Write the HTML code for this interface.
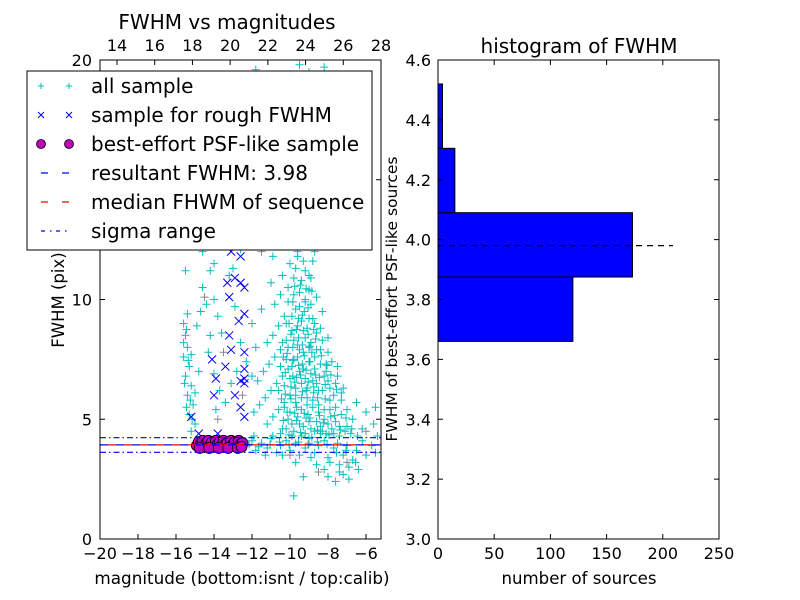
<!DOCTYPE html>
<html><head><meta charset="utf-8"><style>
body{margin:0;background:#fff}
svg{display:block;font-family:"DejaVu Sans","Liberation Sans",sans-serif}
</style></head><body>
<svg id="c" width="800" height="600" viewBox="0 0 800 600">
<rect width="800" height="600" fill="#fff"/>
<g id="left"></g>
<g id="right"></g>
</svg>
<script>
const allSample=[[-9.5,19.8],[-9.0,19.5],[-8.2,19.7],[-10.2,19.3],[-11.8,19.6],[-9.7,18.9],[-8.9,18.2],[-10.5,17.6],[-9.2,17.1],[-8.5,16.8],[-11.2,16.5],[-9.8,16.0],[-10.0,15.4],[-8.7,15.1],[-9.4,14.7],[-10.8,14.2],[-12.0,13.8],[-9.1,13.5],[-8.4,13.2],[-10.3,12.9],[-11.5,12.6],[-13.3,12.3],[-12.6,12.1],[-9.6,12.0],[-10.9,11.8],[-8.8,11.6],[-14.0,11.5],[-13.0,11.3],[-15.5,11.2],
[-10.8,9.8],[-10.5,10.2],[-10.1,10.5],[-9.8,10.9],[-9.5,10.3],[-9.2,9.9],[-9.0,10.4],[-9.7,9.6],[-10.3,9.3],[-10.6,8.9],[-10.9,8.5],[-11.2,8.2],[-9.4,9.1],[-9.1,8.8],[-8.8,9.2],[-8.6,8.6],[-9.9,8.7],[-10.2,8.3],[-10.5,7.9],[-10.8,7.6],[-11.1,7.3],[-11.4,7.0],[-11.7,6.6],[-9.6,8.1],[-9.3,7.8],[-9.0,8.0],[-8.7,7.6],[-8.4,7.9],[-8.1,7.3],[-9.8,7.5],[-10.1,7.1],[-10.4,6.8],[-10.7,6.5],[-11.0,6.2],[-11.3,5.9],[-11.6,5.6],[-11.9,5.3],[-9.5,7.0],[-9.2,6.7],[-8.9,6.9],[-8.6,6.5],[-8.3,6.2],[-8.0,6.6],[-7.7,6.0],[-9.7,6.3],[-10.0,6.0],[-10.3,5.7],[-10.6,5.4],[-10.9,5.1],[-11.2,4.8],[-9.4,5.9],[-9.1,5.6],[-8.8,5.8],[-8.5,5.3],[-8.2,5.0],[-7.9,5.4],[-7.6,4.9],[-7.3,5.2],[-7.0,4.7],[-6.7,5.0],[-9.6,5.1],[-9.9,4.8],[-10.2,4.6],[-10.5,4.4],[-9.3,4.7],[-9.0,4.9],[-8.7,4.5],[-8.4,4.7],[-8.1,4.4],[-7.8,4.6],[-10.0,11.5],[-9.6,11.8],[-9.2,11.2],[-8.9,10.9],[-10.4,11.0],[-11.0,10.7],[-11.5,9.6],[-12.0,9.0],[-11.8,8.0],[-12.3,7.4],[-12.0,6.8],[-8.3,9.5],[-8.0,8.4],[-7.5,7.2],[-7.2,6.3],[-6.5,5.7],[-6.0,5.3],[-5.5,5.5],[-5.6,4.8],[-6.2,4.6],[-6.8,4.4],[-7.4,4.3],
[-9.55,8.4],[-9.35,7.3],[-9.15,6.2],[-9.85,6.8],[-9.65,5.5],[-10.05,9.0],[-9.25,9.5],[-8.95,7.4],[-10.35,7.6],[-8.75,6.1],[-9.45,10.6],[-9.85,9.9],[-10.15,5.3],[-8.55,5.9],[-9.05,5.2],
[-10.4,4.6],[-10.1,5.0],[-9.8,4.5],[-9.5,4.8],[-9.2,4.4],[-8.9,4.6],[-8.6,4.9],[-8.3,4.5],[-8.0,4.8],[-7.7,4.4],[-7.4,4.7],[-7.1,4.5],
[-10.3,5.5],[-10.0,5.3],[-9.7,5.7],[-9.4,5.4],[-9.1,5.9],[-8.8,5.5],[-8.5,5.6],[-8.2,5.4],[-7.9,5.8],[-7.6,5.5],[-7.3,5.8],[-7.0,5.4],
[-10.6,6.2],[-10.3,6.4],[-10.0,6.7],[-9.7,6.0],[-9.4,6.5],[-9.1,6.3],[-8.8,6.6],[-8.5,6.2],[-8.2,6.8],[-7.9,6.3],[-7.6,6.5],[-7.3,6.1],
[-10.5,7.2],[-10.2,7.5],[-9.9,7.2],[-9.6,7.6],[-9.3,7.1],[-9.0,7.4],[-8.7,7.1],[-8.4,7.3],[-8.1,7.0],[-7.8,7.4],[-7.5,6.8],
[-10.4,8.2],[-10.1,8.0],[-9.8,8.3],[-9.5,7.9],[-9.2,8.4],[-8.9,8.2],[-8.6,7.9],[-8.3,8.3],[-8.0,7.8],
[-10.2,9.0],[-9.9,9.3],[-9.6,8.9],[-9.3,8.7],[-9.0,9.2],[-8.7,9.0],[-8.4,8.8],
[-10.1,9.9],[-9.8,10.2],[-9.5,9.7],[-9.2,10.0],[-8.9,9.8],[-8.6,10.1],[-9.4,10.8],[-9.7,11.3],[-9.0,11.0],[-9.3,11.6],[-8.7,12.0],[-9.9,12.4],[-9.0,12.8],[-10.6,13.5],[-9.6,13.9],[-8.6,14.2],
[-9.75,6.55],[-9.45,6.85],[-9.15,7.05],[-8.85,7.8],[-9.35,8.1],[-9.85,8.0],[-9.55,9.2],[-9.05,8.55],[-10.25,6.95],[-8.65,6.85],[-9.95,5.85],[-9.25,5.25],[-8.95,5.05],[-9.65,4.95],[-10.45,5.85],[-8.45,5.15],[-8.15,5.85],[-7.85,5.1],
[-10.35,4.95],[-10.05,4.35],[-9.75,5.25],[-9.45,4.45],[-9.15,5.05],[-8.85,4.25],[-8.55,4.55],[-8.25,4.85],[-7.95,4.35],[-7.65,5.15],[-7.35,4.55],[-7.05,5.05],[-6.75,4.6],[-6.45,4.3],
[-10.25,6.05],[-9.95,6.35],[-9.65,6.75],[-9.35,6.15],[-9.05,6.55],[-8.75,6.35],[-8.45,6.75],[-8.15,6.45],[-7.85,6.85],[-7.55,6.25],
[-10.15,7.75],[-9.85,7.45],[-9.55,7.25],[-9.25,7.65],[-8.95,8.05],[-8.65,8.35],[-8.35,7.65],[-8.05,7.25],
[-9.95,8.55],[-9.65,8.75],[-9.35,9.35],[-9.05,9.65],[-8.75,8.75],[-9.75,10.55],[-9.15,10.45],[-8.85,10.35],
[-12.3,3.9],[-12.0,4.1],[-11.8,3.7],[-11.5,4.0],[-11.2,3.8],[-11.0,4.2],[-10.7,3.6],[-10.5,3.9],[-10.2,4.1],[-10.0,3.7],[-9.7,4.0],[-9.5,3.5],[-9.2,3.8],[-9.0,4.2],[-8.7,3.6],[-8.5,3.9],[-8.2,4.1],[-8.0,3.4],[-7.7,3.8],[-7.5,4.0],[-7.2,3.5],[-7.0,3.9],[-6.7,3.3],[-6.5,3.7],[-6.2,4.1],[-6.0,3.5],[-5.7,3.9],[-5.4,4.3],[-5.5,3.6],[-11.9,4.3],[-11.3,3.5],[-10.9,4.3],[-10.4,3.5],[-9.9,4.3],[-9.4,4.3],[-8.9,3.4],[-8.4,4.4],[-7.9,3.2],[-7.4,3.1],[-6.9,3.0],[-6.4,2.9],[-7.2,2.7],[-8.2,2.9],[-8.6,3.1],[-9.7,3.2],[-9.3,2.6],[-9.8,1.8],[-8.0,2.6],[-6.9,2.5],[-7.6,2.4],[-7.4,2.8],
[-12.15,3.95],[-11.65,3.85],[-11.05,3.95],[-10.55,4.05],[-10.05,3.95],[-9.55,4.05],[-9.05,3.95],[-8.55,4.05],[-8.05,3.95],[-7.55,3.6],[-7.05,3.7],[-6.55,3.2],
[-15.6,9.0],[-15.5,8.5],[-15.4,8.0],[-15.6,7.6],[-15.3,7.2],[-15.5,6.8],[-15.2,6.4],[-15.4,6.0],[-15.1,5.6],[-15.3,5.2],[-15.0,4.8],[-15.2,4.5],[-15.4,9.4],[-15.6,8.2],[-15.2,7.7],[-14.9,8.9],[-14.8,7.0],[-15.0,6.1],[-14.6,10.5],[-14.4,9.8],[-14.2,11.2],[-14.0,10.0],[-13.8,9.3],[-13.6,8.6],[-14.3,7.8],[-14.0,6.9],[-13.7,6.2],[-13.4,5.7],[-13.1,6.5],[-12.8,7.0],[-12.6,8.2],[-12.9,9.7],[-13.2,11.0],[-13.5,12.5],[-13.9,13.0],[-14.6,12.0],[-14.8,13.5],[-15.2,12.8],[-14.5,14.5],[-13.0,14.0],[-12.4,13.5],[-11.7,14.8],[-12.2,15.5],[-11.0,15.8],[-12.7,17.0],[-11.4,17.5],[-13.3,16.0],
[-15.45,8.75],[-15.35,7.45],[-15.55,6.5],[-15.25,5.8],[-15.45,5.5],[-15.15,5.0],[-14.7,9.5],[-14.2,8.5],[-13.9,5.4]];
const greySample=[[-14.5,10.1],[-13.5,7.8],[-12.5,6.0],[-10.0,3.5],[-8.5,2.8],[-7.0,3.2],[-11.5,12.0],[-9.0,4.0],[-6.0,4.5],[-13.8,5.0]];
const roughSample=[[-13.3,10.7],[-12.9,10.9],[-12.6,10.7],[-12.4,10.5],[-13.2,10.1],[-12.4,9.4],[-12.7,9.1],[-13.2,8.5],[-13.1,7.9],[-12.4,7.8],[-14.1,7.5],[-13.4,7.2],[-12.4,7.1],[-12.4,6.7],[-12.6,6.6],[-12.4,6.5],[-13.9,6.7],[-14.0,6.0],[-12.9,6.0],[-12.6,5.5],[-12.4,5.1],[-15.2,5.1],[-13.8,4.4],[-14.8,4.4],[-13.1,12.0],[-12.6,11.8]];
const bestSample=[[-14.9,3.9],[-14.8,4.05],[-14.7,3.95],[-14.6,4.1],[-14.5,3.85],[-14.4,4.0],[-14.3,4.1],[-14.2,3.9],[-14.1,4.05],[-14.0,3.85],[-13.9,4.1],[-13.8,3.95],[-13.7,4.05],[-13.6,3.85],[-13.5,4.1],[-13.4,3.95],[-13.3,4.0],[-13.2,3.85],[-13.1,4.1],[-13.0,3.95],[-12.9,4.05],[-12.8,3.85],[-12.7,4.1],[-12.6,3.95],[-12.5,4.0],[-14.75,3.8],[-14.25,3.8],[-13.75,3.8],[-13.25,3.8],[-12.75,3.8],[-12.55,3.85]];
const resultantFwhm=3.93, medianFwhm=3.93, sigmaHigh=4.23, sigmaLow=3.62;
const binEdges=[3.66,3.875,4.09,4.305,4.52];
const binCounts=[120,173,15,4];
const histLine=3.98, histLineLen=209;
const xTicks=[-20,-18,-16,-14,-12,-10,-8,-6];
const xTopTicks=[14,16,18,20,22,24,26,28];
const yTicks=[0,5,10,15,20];
const hxTicks=[0,50,100,150,200,250];
const hyTicks=[3.0,3.2,3.4,3.6,3.8,4.0,4.2,4.4,4.6];

const NS='http://www.w3.org/2000/svg';
function mk(p,t,a,txt){const e=document.createElementNS(NS,t);for(const k in a)e.setAttribute(k,a[k]);if(txt!==undefined)e.textContent=txt;p.appendChild(e);return e;}
const L=document.getElementById('left'),R=document.getElementById('right');
const X=m=>100+(m+20)*19, Y=f=>539-f*23.95;
const TX=m=>117+(m-14)*18.857;
const HX=n=>438+n*281/250, HY=v=>539-(v-3)*299.375;

allSample.forEach(p=>{const x=X(p[0]),y=Y(p[1]);
 const e=mk(L,'path',{d:`M${x-4},${y}h8M${x},${y-4}v8`,stroke:'#00bfbf','stroke-width':1});
 
 });
greySample.forEach(p=>{const x=X(p[0]),y=Y(p[1]);
 const e=mk(L,'path',{d:`M${x-4},${y}h8M${x},${y-4}v8`,stroke:'#888','stroke-width':1});
 
 });
roughSample.forEach(p=>{const x=X(p[0]),y=Y(p[1]);
 const e=mk(L,'path',{d:`M${x-4},${y-4}l8,8M${x-4},${y+4}l8,-8`,stroke:'#0000ff','stroke-width':1});
 
 });
bestSample.forEach(p=>{
 const e=mk(L,'circle',{cx:X(p[0]),cy:Y(p[1]),r:5.5,fill:'#bf00bf',stroke:'#000','stroke-width':0.8});
 
 });
[[sigmaHigh,'#0000ff','6,3,1.5,3','sigma-high-line'],[sigmaLow,'#0000ff','6,3,1.5,3','sigma-low-line'],[resultantFwhm,'#0000ff','8,8','resultant-fwhm-line']].forEach(l=>{
 const e=mk(L,'line',{x1:100,x2:381,y1:Y(l[0]),y2:Y(l[0]),stroke:l[1],'stroke-width':1.2,'stroke-dasharray':l[2]});
 
 });
{const e=mk(L,'line',{x1:100,x2:381,y1:Y(medianFwhm),y2:Y(medianFwhm),stroke:'#ff0000','stroke-width':1.2,'stroke-dasharray':'8,8','stroke-dashoffset':8});
 
 }
mk(L,'rect',{x:100,y:60,width:281,height:479,fill:'none',stroke:'#000','stroke-width':1,});
xTicks.forEach(t=>{const x=X(t);
 mk(L,'path',{d:`M${x},539v-5`,stroke:'#000'});
 const e=mk(L,'text',{x:x,y:559,'font-size':16,'text-anchor':'middle'},(t<0?'\u2212'+(-t):t));
 
 });
xTopTicks.forEach(t=>{const x=TX(t);
 mk(L,'path',{d:`M${x},60v5`,stroke:'#000'});
 const e=mk(L,'text',{x:x,y:51,'font-size':16,'text-anchor':'middle'},t);
 
 });
yTicks.forEach(t=>{const y=Y(t);
 mk(L,'path',{d:`M100,${y}h5M381,${y}h-5`,stroke:'#000'});
 const e=mk(L,'text',{x:92,y:y+6,'font-size':16,'text-anchor':'end'},t);
 
 });
mk(L,'text',{x:227,y:29,'font-size':20,'text-anchor':'middle',},'FWHM vs magnitudes');
mk(L,'text',{x:242,y:584,'font-size':16.8,'text-anchor':'middle',},'magnitude (bottom:isnt / top:calib)');
mk(L,'text',{x:64,y:300,'font-size':16.5,'text-anchor':'middle',transform:'rotate(-90 64 300)',},'FWHM (pix)');

binCounts.forEach((c,i)=>{const y1=HY(binEdges[i+1]),y0=HY(binEdges[i]);
 const e=mk(R,'rect',{x:438,y:y1,width:HX(c)-438,height:y0-y1,fill:'#0000ff',stroke:'#000','stroke-width':1});
 
 });
mk(R,'line',{x1:438,x2:HX(histLineLen),y1:HY(histLine),y2:HY(histLine),stroke:'#000','stroke-width':1.2,'stroke-dasharray':'6,5',});
mk(R,'rect',{x:438,y:60,width:281,height:479,fill:'none',stroke:'#000',});
hxTicks.forEach(t=>{const x=HX(t);
 mk(R,'path',{d:`M${x},539v-5M${x},60v5`,stroke:'#000'});
 const e=mk(R,'text',{x:x,y:559,'font-size':16,'text-anchor':'middle'},t);
 
 });
hyTicks.forEach(t=>{const y=HY(t);
 mk(R,'path',{d:`M438,${y}h5M719,${y}h-5`,stroke:'#000'});
 const e=mk(R,'text',{x:431,y:y+6,'font-size':16,'text-anchor':'end'},t.toFixed(1));
 
 });
mk(R,'text',{x:579,y:53,'font-size':20,'text-anchor':'middle',},'histogram of FWHM');
mk(R,'text',{x:579,y:584,'font-size':16.6,'text-anchor':'middle',},'number of sources');
mk(R,'text',{x:397,y:299,'font-size':15.5,'text-anchor':'middle',transform:'rotate(-90 397 299)',},'FWHM of best-effort PSF-like sources');

const G=mk(L,'g',{});
mk(G,'rect',{x:27,y:71,width:345,height:179,fill:'#fff',stroke:'#000'});
const labels=['all sample','sample for rough FWHM','best-effort PSF-like sample','resultant FWHM: 3.98','median FHWM of sequence','sigma range'];
labels.forEach((s,i)=>{const y=86+i*29;
 const e=mk(G,'text',{x:91,y:y+7,'font-size':20},s);
 
 
 [41,69].forEach(x=>{
  if(i==0)mk(G,'path',{d:`M${x-3},${y}h6M${x},${y-3}v6`,stroke:'#00bfbf'});
  if(i==1)mk(G,'path',{d:`M${x-3},${y-3}l6,6M${x-3},${y+3}l6,-6`,stroke:'#0000ff'});
  if(i==2)mk(G,'circle',{cx:x,cy:y,r:4.5,fill:'#bf00bf',stroke:'#000','stroke-width':0.8});});
 if(i==3)mk(G,'path',{d:`M41,${y}h7M62,${y}h7`,stroke:'#0000ff','stroke-width':1.3});
 if(i==4)mk(G,'path',{d:`M41,${y}h7M62,${y}h7`,stroke:'#ff0000','stroke-width':1.3});
 if(i==5)mk(G,'path',{d:`M41,${y}h4M50,${y}h1.5M56,${y}h4M65,${y}h1.5`,stroke:'#0000ff','stroke-width':1.3});
});
</script>
</body></html>
